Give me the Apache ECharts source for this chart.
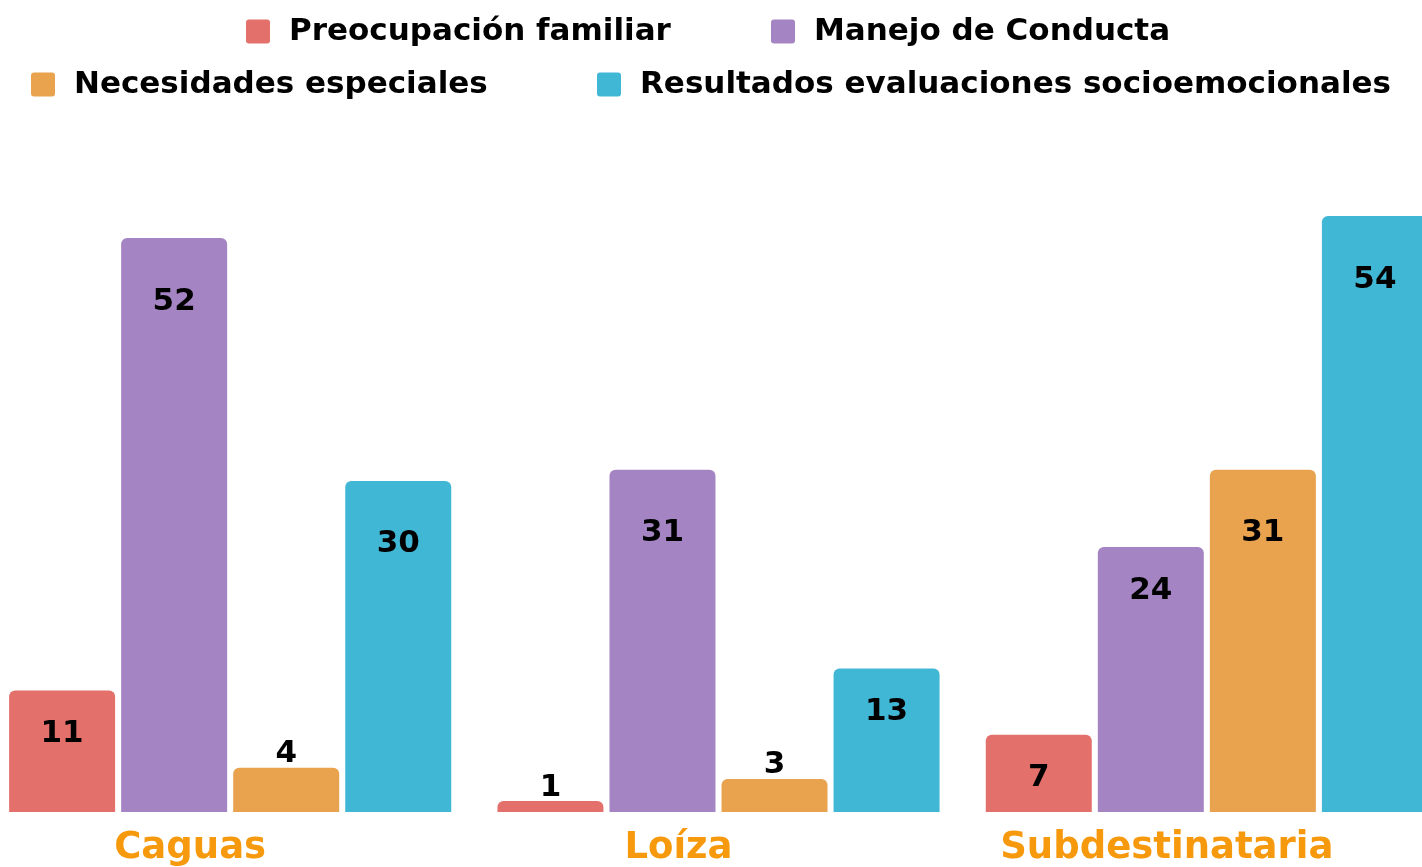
<!DOCTYPE html>
<html>
<head>
<meta charset="utf-8">
<style>
  html, body { margin: 0; padding: 0; background: #fff; }
  #chart { width: 1422px; height: 867px; }
</style>
<script src="https://cdn.jsdelivr.net/npm/echarts@6/dist/echarts.min.js"></script>
</head>
<body>
<div id="chart"></div>
<script>
const categories = ['Caguas', 'Loíza', 'Subdestinataria']
const seriesNames = ['Preocupación familiar', 'Manejo de Conducta', 'Necesidades especiales', 'Resultados evaluaciones socioemocionales']
const preocupacion = [11, 1, 7]
const manejo = [52, 31, 24]
const necesidades = [4, 3, 31]
const resultados = [30, 13, 54]
const colors = ['#E4706C', '#A584C4', '#E9A24E', '#41B7D6']

const font = '"DejaVu Sans", sans-serif'
const chart = echarts.init(document.getElementById('chart'))

// small bars get the value above, the rest inside near the top
function toItems (values) {
  return values.map(v => {
    if (v < 5) {
      return { value: v, label: { position: 'top', distance: -2 } }
    }
    return { value: v, label: { position: 'insideTop', distance: v >= 25 ? 48 : 28 } }
  })
}

const legendPos = [
  { left: 241, top: 11 },
  { left: 766, top: 11 },
  { left: 26, top: 64 },
  { left: 592, top: 64 }
]

const square = 'path://M3,0 H21 Q24,0 24,3 V21 Q24,24 21,24 H3 Q0,24 0,21 V3 Q0,0 3,0 Z'

const legends = seriesNames.map((name, i) => ({
  data: [name],
  left: legendPos[i].left,
  top: legendPos[i].top,
  icon: square,
  itemWidth: 24,
  itemHeight: 25,
  selectedMode: false,
  textStyle: {
    fontFamily: font,
    fontWeight: 'bold',
    fontSize: 31,
    color: '#000',
    padding: [0, 0, 0, 14]
  }
}))

const option = {
  animation: false,
  legend: legends,
  grid: {
    left: -14,
    right: -29,
    top: 216,
    bottom: 55,
    outerBoundsMode: 'none',
    containLabel: false
  },
  xAxis: {
    type: 'category',
    data: categories,
    axisLine: { show: false },
    axisTick: { show: false },
    axisLabel: {
      color: '#F7990C',
      fontFamily: font,
      fontWeight: 'bold',
      fontSize: 37,
      margin: 18,
      padding: [0, 80, 0, 0]
    }
  },
  yAxis: {
    type: 'value',
    min: 0,
    max: 54,
    show: false,
    splitLine: { show: false }
  },
  series: [preocupacion, manejo, necesidades, resultados].map((values, i) => ({
    name: seriesNames[i],
    type: 'bar',
    barWidth: 106,
    barGap: '5.7%',
    itemStyle: { color: colors[i], borderRadius: [6, 6, 0, 0] },
    label: {
      show: true,
      color: '#000',
      fontFamily: font,
      fontWeight: 'bold',
      fontSize: 31
    },
    data: toItems(values)
  }))
}

chart.setOption(option)
window.onresize = () => {
  chart.resize()
}
</script>
</body>
</html>
